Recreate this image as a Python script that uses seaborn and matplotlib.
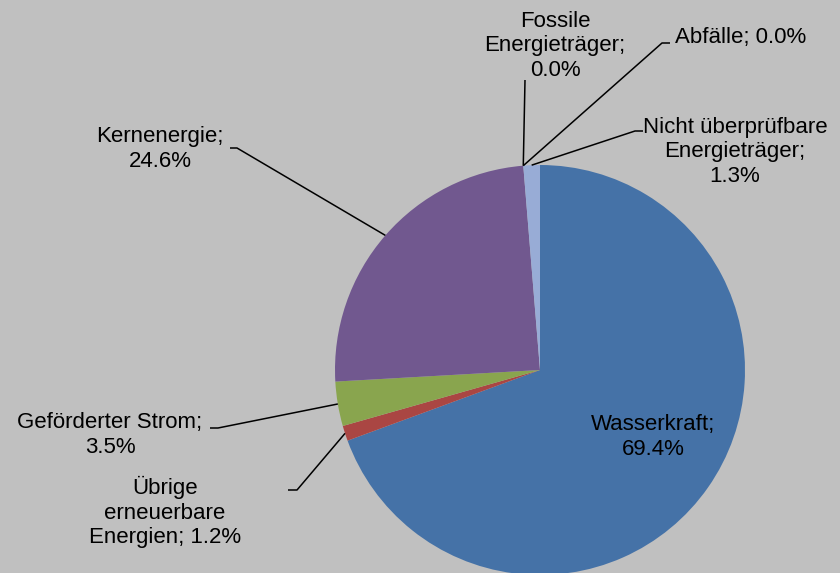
import numpy as np
import matplotlib
matplotlib.use("Agg")
import matplotlib.pyplot as plt
import seaborn as sns

categories = ["Wasserkraft", "Übrige\nerneuerbare\nEnergien", "Geförderter Strom", "Kernenergie",
              "Fossile\nEnergieträger", "Abfälle", "Nicht überprüfbare\nEnergieträger"]
values = [69.4, 1.2, 3.5, 24.6, 0.0, 0.0, 1.3]
colors = ["#4572A7", "#AA4643", "#89A54E", "#71588F", "#4198AF", "#DB843D", "#98ACD6"]

sns.set_theme(style="white")
plt.rcParams["font.family"] = ["Liberation Sans", "DejaVu Sans"]

BG = "#C0C0C0"
W, H = 840, 573
fig = plt.figure(figsize=(W / 100, H / 100), dpi=100, facecolor=BG)
ax = fig.add_axes([0, 0, 1, 1])
ax.set_facecolor(BG)

cx, cy, R = 540, H - 370, 205
wedges, _ = ax.pie(values, colors=colors, startangle=90, counterclock=False,
                   center=(cx, cy), radius=R, frame=True,
                   wedgeprops=dict(linewidth=0))
ax.set_xlim(0, W)
ax.set_ylim(0, H)
ax.set_aspect("equal")
ax.axis("off")

# label layout: text position and leader-line waypoints, pixel coords from top
layout = {
    0: dict(t=(653, 437), ha="center", pts=None),
    1: dict(t=(165, 512), ha="center", pts=[(297, 490), (288, 490)]),
    2: dict(t=(110, 435), ha="center", pts=[(218, 428), (210, 428)]),
    3: dict(t=(160, 149), ha="center", pts=[(237, 148), (230, 148)]),
    4: dict(t=(555, 46), ha="center", pts=[(525, 80)]),
    5: dict(t=(675, 38), ha="left", pts=[(662, 43), (670, 43)]),
    6: dict(t=(735, 152), ha="center", pts=[(635, 131), (643, 131)]),
}

for i, (w, name, v) in enumerate(zip(wedges, categories, values)):
    lay = layout[i]
    if name.endswith("Energien") or name == "Abfälle":
        txt = f"{name}; {v:.1f}%"
    else:
        txt = f"{name};\n{v:.1f}%"
    tx, ty = lay["t"]
    ax.text(tx, H - ty, txt, ha=lay["ha"], va="center", fontsize=16,
            color="black", linespacing=1.24)
    if lay["pts"]:
        ang = np.deg2rad((w.theta1 + w.theta2) / 2)
        ax0 = cx + R * np.cos(ang)
        ay0 = cy + R * np.sin(ang)
        xs = [ax0] + [p[0] for p in lay["pts"]]
        ys = [ay0] + [H - p[1] for p in lay["pts"]]
        ax.plot(xs, ys, color="black", linewidth=1.1, solid_capstyle="butt")

fig.savefig("out.png", dpi=100, facecolor=BG)
